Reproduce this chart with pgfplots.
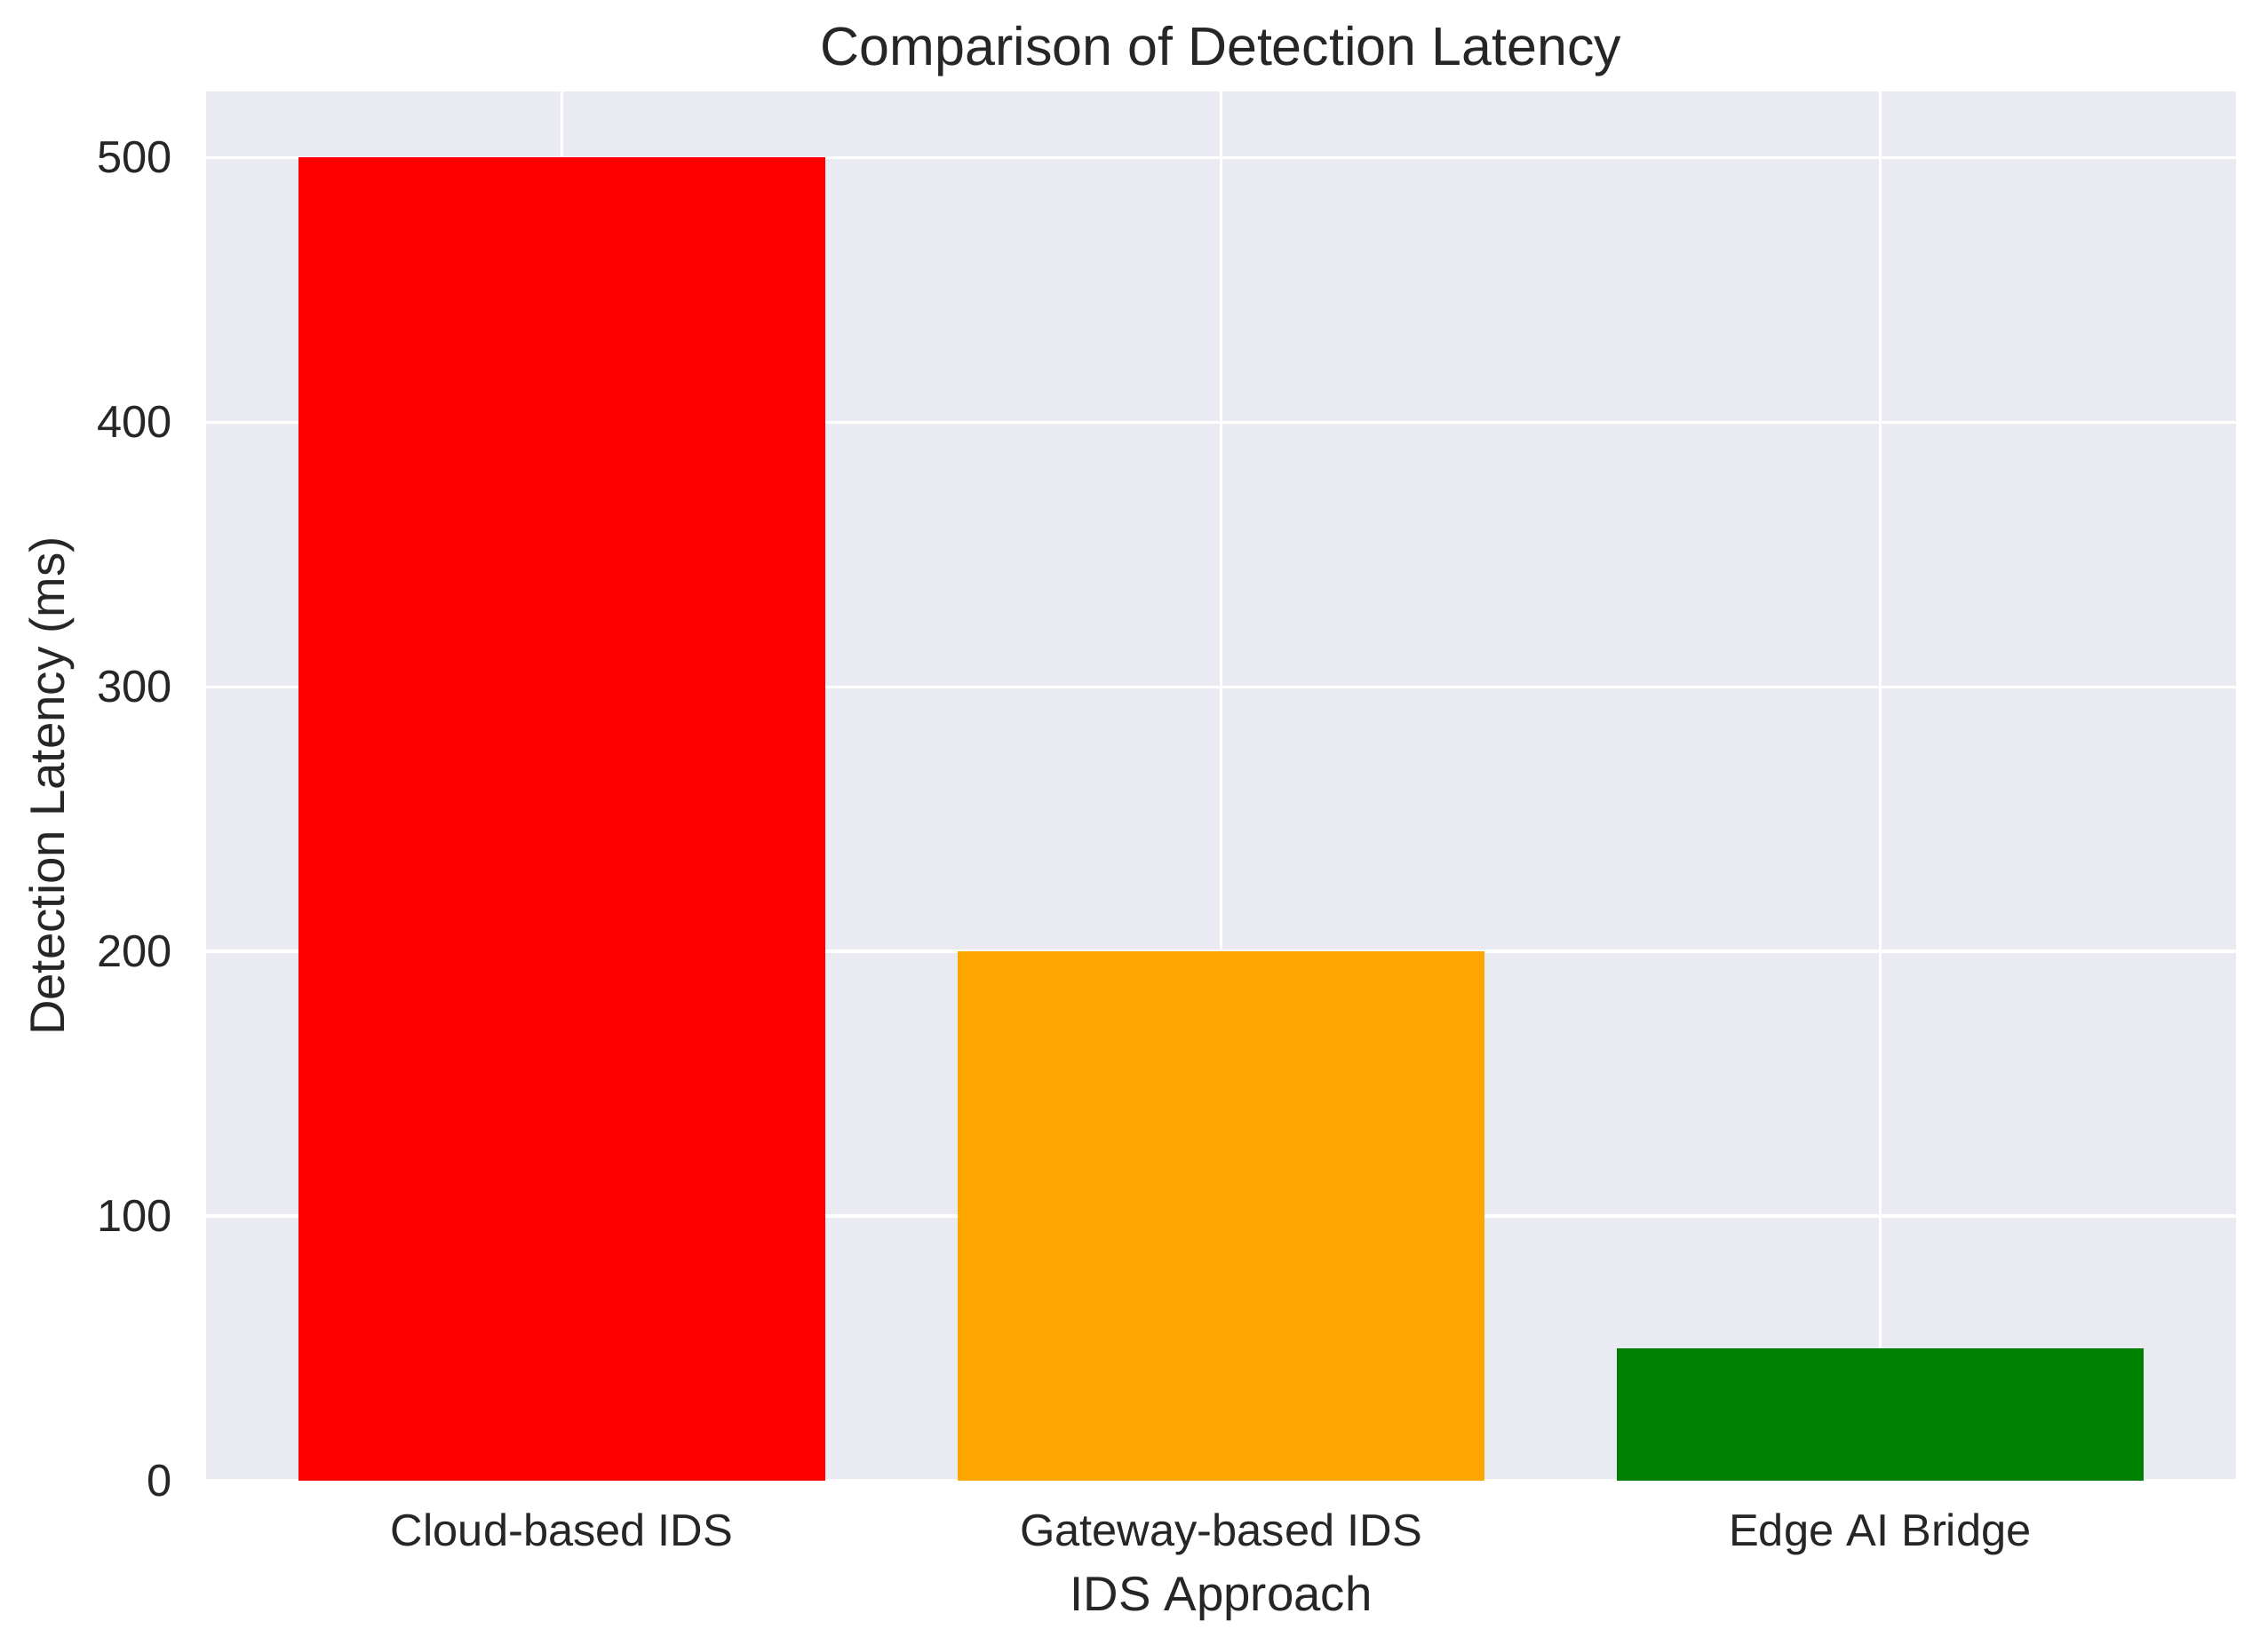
\documentclass[border=0pt]{standalone}
\usepackage{fontspec}
\setmainfont{Liberation Sans}
\usepackage{pgfplots}
\pgfplotsset{compat=1.18}

\definecolor{bgc}{RGB}{234,234,242}
\definecolor{textc}{RGB}{38,38,38}
\definecolor{cloudc}{RGB}{255,0,0}
\definecolor{gatec}{RGB}{255,165,0}
\definecolor{edgec}{RGB}{0,128,0}

\begin{document}
\begin{tikzpicture}
  % picture frame: 15.6cm x 11.311cm, axis box at (0,0)
  \useasboundingbox (-1.418,-1.125) rectangle (14.182,10.186);
  \begin{axis}[
    at={(0,0)}, anchor=south west,
    scale only axis,
    width=13.962cm, height=9.557cm,
    xmin=-0.54, xmax=2.54,
    ymin=0, ymax=525,
    xtick={0,1,2},
    xticklabels={Cloud-based IDS, Gateway-based IDS, Edge AI Bridge},
    ytick={0,100,200,300,400,500},
    axis background/.style={fill=bgc},
    axis line style={draw=none},
    major tick length=0pt,
    tick style={draw=none},
    grid=major,
    grid style={white, line width=0.6pt},
    /pgf/number format/assume math mode=true,
    ticklabel style={text=textc, font=\fontsize{8.8}{10}\selectfont, inner sep=0pt},
    xticklabel style={anchor=base, yshift=-0.446cm},
    yticklabel style={anchor=east, xshift=-0.228cm},
    every axis title shift=0pt,
    title={Comparison of Detection Latency},
    title style={at={(axis description cs:0.5,1.0185)}, anchor=base,
      inner sep=0pt, text=textc, font=\fontsize{10.6}{12}\selectfont},
    xlabel={IDS Approach},
    xlabel style={at={(axis description cs:0.5,-0.0935)}, anchor=base,
      inner sep=0pt, text=textc, font=\fontsize{9.5}{11}\selectfont},
    ylabel={Detection Latency (ms)},
    ylabel style={at={(axis description cs:-0.0698,0.5)}, anchor=base,
      rotate=0, inner sep=0pt, text=textc, font=\fontsize{9.5}{11}\selectfont},
  ]
    \addplot[ybar, bar width=0.8, bar shift=0pt, fill=cloudc, draw=none] coordinates {(0,500)};
    \addplot[ybar, bar width=0.8, bar shift=0pt, fill=gatec, draw=none] coordinates {(1,200)};
    \addplot[ybar, bar width=0.8, bar shift=0pt, fill=edgec, draw=none] coordinates {(2,50)};
  \end{axis}
\end{tikzpicture}
\end{document}
